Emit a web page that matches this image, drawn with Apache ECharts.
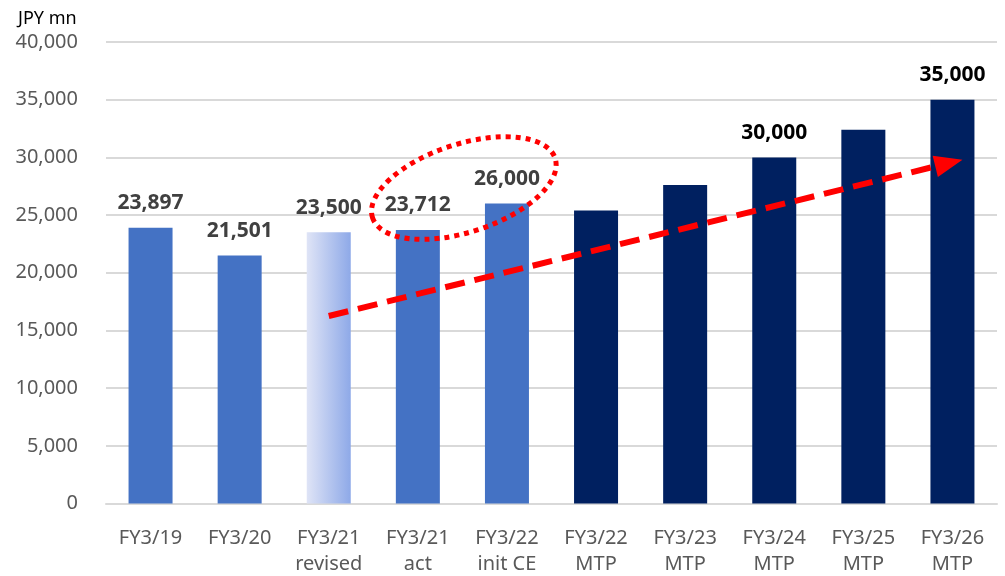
<!DOCTYPE html>
<html>
<head>
<meta charset="utf-8">
<script src="https://cdn.jsdelivr.net/npm/echarts@6/dist/echarts.min.js"></script>
<style>
  html, body { margin: 0; padding: 0; background: #fff; }
  #chart { width: 1005px; height: 576px; }
</style>
</head>
<body>
<div id="chart"></div>
<script>
const categories = [
  'FY3/19', 'FY3/20', 'FY3/21\nrevised', 'FY3/21\nact', 'FY3/22\ninit CE',
  'FY3/22\nMTP', 'FY3/23\nMTP', 'FY3/24\nMTP', 'FY3/25\nMTP', 'FY3/26\nMTP'
];
const sales = [23897, 21501, 23500, 23712, 26000, 25400, 27600, 30000, 32400, 35000];
// which bars carry a value label
const showLabel = [true, true, true, true, true, false, false, true, false, true];
// act = actual/forecast, rev = revised (gradient), mtp = mid-term plan
const kind = ['act', 'act', 'rev', 'act', 'act', 'mtp', 'mtp', 'mtp', 'mtp', 'mtp'];
const yMin = 0, yMax = 40000, yStep = 5000;
// trend arrow: [category index, value] at start and end
const trendStart = [2, 16250];
const trendEnd = [9, 29800];

const FONT = 'Noto Sans';
const chart = echarts.init(document.getElementById('chart'), null, { renderer: 'canvas' });

const colors = {
  act: '#4472c4',
  mtp: '#002060',
  rev: new echarts.graphic.LinearGradient(0, 0, 1, 0, [
    { offset: 0, color: '#dfe4f6' },
    { offset: 1, color: '#8ea9e8' }
  ])
};

const barData = sales.map((v, i) => ({
  value: v,
  itemStyle: { color: colors[kind[i]] },
  label: {
    show: showLabel[i],
    color: kind[i] === 'mtp' ? '#000000' : '#404040'
  }
}));

const option = {
  animation: false,
  textStyle: { fontFamily: FONT },
  title: {
    text: 'JPY mn',
    left: 13,
    top: 5,
    textStyle: { fontFamily: FONT, fontSize: 18, fontWeight: 'normal', color: '#000' }
  },
  grid: { left: 106, right: 8, top: 42, bottom: 72.5, outerBoundsMode: 'none' },
  xAxis: {
    type: 'category',
    data: categories,
    axisLine: { lineStyle: { color: '#d9d9d9', width: 2 } },
    axisTick: { show: false },
    axisLabel: {
      color: '#595959',
      fontFamily: FONT,
      fontSize: 20,
      lineHeight: 26,
      margin: 22,
      interval: 0
    }
  },
  yAxis: {
    type: 'value',
    min: yMin,
    max: yMax,
    interval: yStep,
    axisLine: { show: false },
    axisTick: { show: false },
    splitLine: { lineStyle: { color: '#d9d9d9', width: 2 } },
    axisLabel: {
      color: '#595959',
      fontFamily: FONT,
      fontSize: 20,
      margin: 28,
      formatter: v => v.toLocaleString('en-US')
    }
  },
  series: [{
    type: 'bar',
    data: barData,
    barWidth: 44,
    label: {
      position: 'top',
      distance: 14,
      fontFamily: FONT,
      fontSize: 21,
      fontWeight: 'bold',
      formatter: p => p.value.toLocaleString('en-US')
    }
  }]
};

chart.setOption(option);

// annotations: dotted ellipse round the act/CE labels and the dashed trend arrow
function px(i, v, dx) {
  const p = chart.convertToPixel({ gridIndex: 0 }, [i, v]);
  return [p[0] + (dx || 0), p[1]];
}

const S = px(trendStart[0], trendStart[1]);
const T = px(trendEnd[0], trendEnd[1], 10);
const len = Math.hypot(T[0] - S[0], T[1] - S[1]);
const d = [(T[0] - S[0]) / len, (T[1] - S[1]) / len];
const n = [-d[1], d[0]];
const headL = 28, headW = 11;
const B = [T[0] - d[0] * headL, T[1] - d[1] * headL];

const E = px(3, 27340, 46);

chart.setOption({
  graphic: [
    {
      type: 'ellipse',
      z: 100,
      x: E[0],
      y: E[1],
      rotation: 18 * Math.PI / 180,
      shape: { cx: 0, cy: 0, rx: 96, ry: 44 },
      style: { fill: 'none', stroke: '#ff0000', lineWidth: 5, lineDash: [5, 5] }
    },
    {
      type: 'line',
      z: 100,
      shape: { x1: S[0], y1: S[1], x2: B[0] + d[0] * 2, y2: B[1] + d[1] * 2 },
      style: { stroke: '#ff0000', lineWidth: 6, lineDash: [20, 10] }
    },
    {
      type: 'polygon',
      z: 100,
      shape: {
        points: [
          T,
          [B[0] + n[0] * headW, B[1] + n[1] * headW],
          [B[0] - n[0] * headW, B[1] - n[1] * headW]
        ]
      },
      style: { fill: '#ff0000' }
    }
  ]
});

window.addEventListener('resize', chart.resize);
</script>
</body>
</html>
